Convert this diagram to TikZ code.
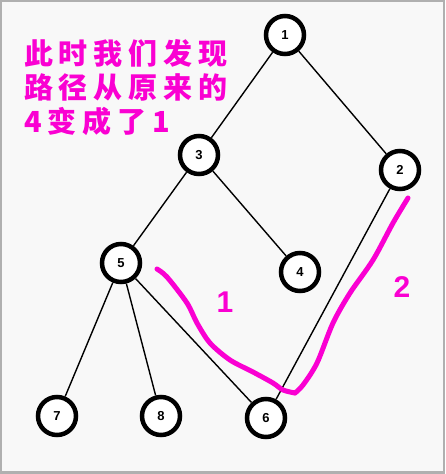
\documentclass[tikz,border=0pt]{standalone}
\usepackage{fontspec}
\setmainfont{Liberation Sans}
\newfontfamily\cjk[LetterSpace=20]{Noto Sans CJK SC}
\definecolor{pen}{RGB}{250,0,210}
\definecolor{paper}{RGB}{248,248,248}
\definecolor{frame}{RGB}{176,176,176}
\tikzset{
  vertex/.style={circle,draw,line width=4.5pt,fill=white,minimum size=38pt,inner sep=0pt,
    font=\bfseries\fontsize{13}{13}\selectfont},
  edge/.style={line width=1.4pt},
  ink/.style={pen,line width=5pt,line cap=round,line join=round}
}
\begin{document}
\begin{tikzpicture}[x=1pt,y=-1pt]
  % frame and paper
  \fill[frame](0,0)rectangle(445,474);
  \fill[paper](1.5,2)rectangle(443,471);
  \useasboundingbox(0,0)rectangle(445,474);
  % tree
  \node[vertex] (n1) at (285,35) {1};
  \node[vertex] (n3) at (199,155) {3};
  \node[vertex] (n2) at (400,170) {2};
  \node[vertex] (n5) at (121,263) {5};
  \node[vertex] (n4) at (300,272) {4};
  \node[vertex] (n7) at (57,416) {7};
  \node[vertex] (n8) at (161,416) {8};
  \node[vertex] (n6) at (266,418) {6};
  \draw[edge](n1)--(n3) (n1)--(n2) (n3)--(n5) (n3)--(n4);
  \draw[edge](n5)--(n7) (n5)--(n8) (n5)--(n6) (n2)--(n6);
  % hand drawn paths
  \draw[ink] plot[smooth] coordinates {(157,269)(167,277)(187,303)(197,323)(210,343)(230,360)(253,372)(273,383)(283,390)(295,393)};
  \draw[ink] plot[smooth] coordinates {(295,393)(303,385)(317,363)(333,323)(350,293)(373,260)(393,223)(408,198)};
  \node[pen,font=\bfseries\fontsize{30}{30}\selectfont] (w1) at (225,302) {1};
  \node[pen,font=\bfseries\fontsize{30}{30}\selectfont] (w2) at (402,287) {2};
  % note
  \node[pen,anchor=north west,align=left,inner sep=0pt,
    font=\cjk\bfseries\fontsize{29}{34}\selectfont] (note) at (24,39)
    {此时我们发现\\路径从原来的\\4变成了1};
\end{tikzpicture}
\end{document}
